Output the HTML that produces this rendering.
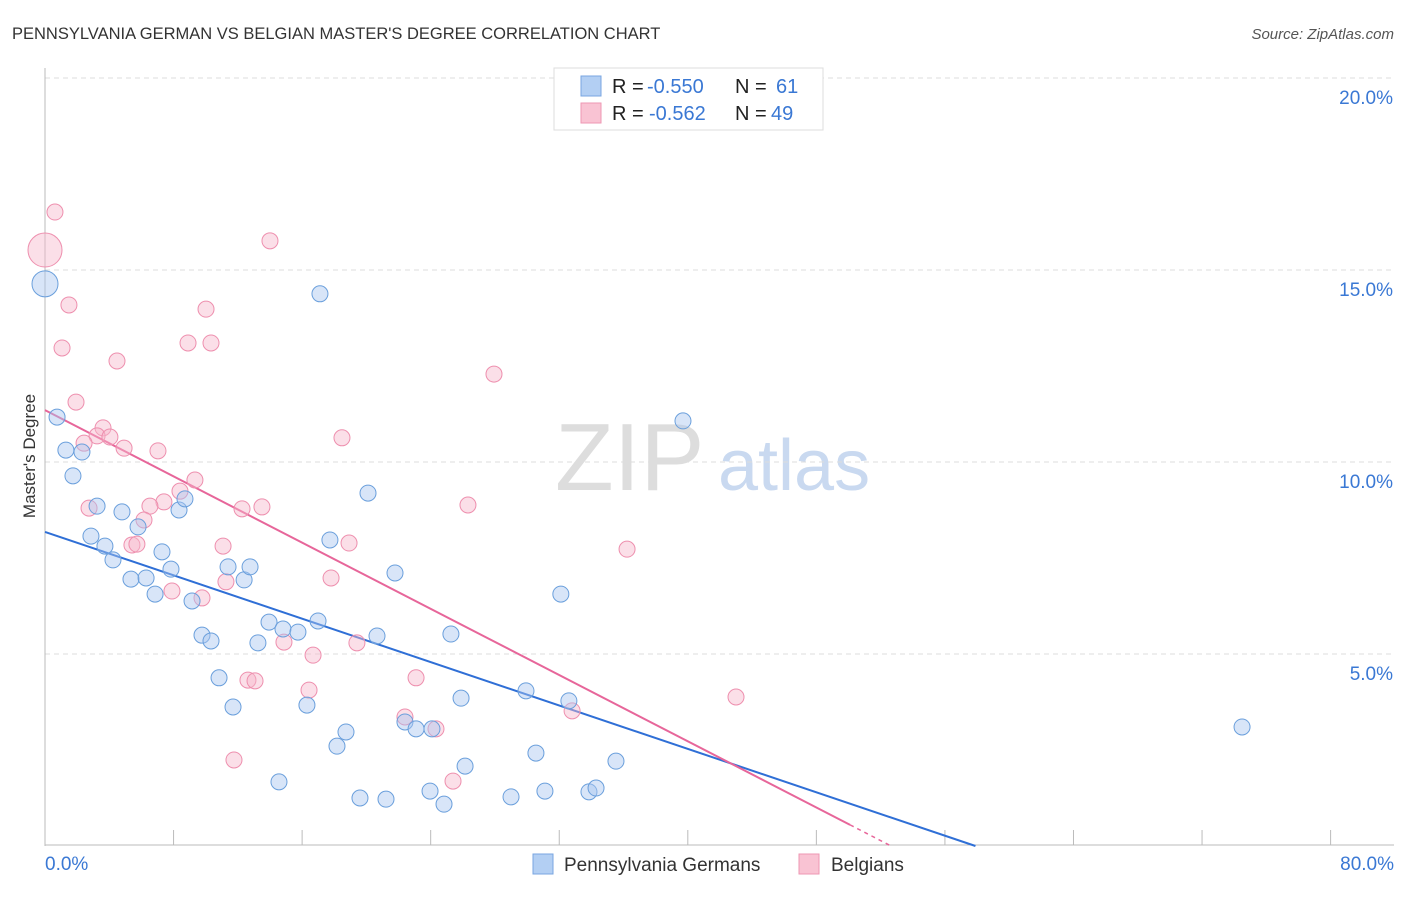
<!DOCTYPE html>
<html><head><meta charset="utf-8"><style>
body{margin:0;background:#fff;font-family:"Liberation Sans",sans-serif}
svg text{font-family:"Liberation Sans",sans-serif}
</style></head><body>
<svg id="chart" width="1406" height="892" viewBox="0 0 1406 892">
<text x="12" y="39" font-size="16.5" fill="#333">PENNSYLVANIA GERMAN VS BELGIAN MASTER'S DEGREE CORRELATION CHART</text>
<text x="1394" y="39" font-size="15" fill="#555" text-anchor="end" font-style="italic">Source: ZipAtlas.com</text>
<text x="35" y="456" font-size="17" fill="#333" text-anchor="middle" transform="rotate(-90 35 456)">Master's Degree</text>
<g><text x="555" y="490" font-size="96" fill="#ddd" font-family="Liberation Serif,serif">ZIP</text><text x="718" y="490" font-size="72" fill="#c9d9f0">atlas</text></g>
<g id="grid"></g><g id="trends"></g><g id="pts"></g>
<g>
<rect x="554" y="68" width="269" height="62" fill="#fff" stroke="#ddd"/>
<rect x="581" y="76" width="20" height="20" fill="#b3cff3" stroke="#78a6e0"/>
<rect x="581" y="103" width="20" height="20" fill="#f9c3d3" stroke="#ee97b3"/>
<text x="612" y="93" font-size="20" fill="#222">R =</text>
<text x="647" y="93" font-size="20" fill="#3a78d4">-0.550</text>
<text x="735" y="93" font-size="20" fill="#222">N =</text>
<text x="776" y="93" font-size="20" fill="#3a78d4">61</text>
<text x="612" y="120" font-size="20" fill="#222">R =</text>
<text x="649" y="120" font-size="20" fill="#3a78d4">-0.562</text>
<text x="735" y="120" font-size="20" fill="#222">N =</text>
<text x="771" y="120" font-size="20" fill="#3a78d4">49</text>
</g>
<g>
<rect x="533" y="854" width="20" height="20" fill="#b3cff3" stroke="#78a6e0"/>
<text x="564" y="871" font-size="19" fill="#333">Pennsylvania Germans</text>
<rect x="799" y="854" width="20" height="20" fill="#f9c3d3" stroke="#ee97b3"/>
<text x="831" y="871" font-size="19" fill="#333">Belgians</text>
</g>
</svg>
<script>
const yTicks=[5,10,15,20];
const xTickLabels=["0.0%","80.0%"];
const blueX=[0,0.75,1.3,2.3,1.74,3.24,4.79,2.86,3.73,4.23,5.79,7.28,7.84,5.35,6.29,6.85,8.34,8.71,9.15,11.39,12.39,12.76,9.77,10.33,13.94,14.81,15.74,13.25,16.99,17.11,17.73,20.1,21.78,20.66,25.26,32.1,39.7,10.83,11.7,16.3,18.73,18.17,22.4,23.09,24.08,25.89,29.93,32.6,30.55,26.14,35.53,14.56,19.6,21.22,23.96,24.83,29.0,31.11,33.85,34.29,74.49];
const blueY=[14.64,11.17,10.31,10.26,9.64,8.85,8.70,8.07,7.81,7.45,8.31,7.66,7.21,6.95,6.98,6.56,8.75,9.04,6.38,7.27,6.93,7.27,5.49,5.34,5.83,5.65,5.57,5.29,5.86,14.38,7.97,9.19,7.11,5.47,5.52,6.56,11.07,4.38,3.62,3.67,2.97,2.60,3.23,3.05,3.05,3.85,4.04,3.78,2.42,2.08,2.21,1.67,1.25,1.22,1.43,1.09,1.28,1.43,1.41,1.51,3.10];
const pinkX=[0,0.62,14.0,1.49,1.06,10.02,8.9,10.33,4.48,27.94,1.93,3.61,3.24,4.04,2.43,4.92,7.03,18.48,9.33,8.4,7.4,6.53,2.74,6.16,12.26,13.5,26.32,5.41,5.72,11.08,18.92,36.22,17.8,7.9,9.77,11.26,14.87,16.68,19.41,12.63,13.07,16.43,23.09,22.4,24.33,32.8,43.0,11.76,25.39];
const pinkY=[15.52,16.51,15.76,14.09,12.97,13.98,13.1,13.1,12.63,12.29,11.56,10.89,10.68,10.65,10.49,10.36,10.29,10.63,9.53,9.24,8.96,8.85,8.80,8.49,8.78,8.83,8.88,7.84,7.86,7.81,7.89,7.73,6.98,6.64,6.46,6.88,5.31,4.97,5.29,4.32,4.30,4.06,4.38,3.36,3.05,3.52,3.88,2.24,1.69];
const blueTrend=[[0,8.18],[57.9,0]];
const pinkTrend=[[0,11.35],[50.1,0.55]];
const X=v=>45+v*16.07, Y=v=>846-v*38.4;
const NS="http://www.w3.org/2000/svg";
function mk(p,t,a){const e=document.createElementNS(NS,t);for(const k in a)e.setAttribute(k,a[k]);p.appendChild(e);return e;}
const g=document.getElementById('grid');
yTicks.forEach(t=>{
const l=mk(g,'line',{x1:45,x2:1394,y1:Y(t),y2:Y(t),stroke:'#ddd','stroke-dasharray':'5,4'});


const tx=mk(g,'text',{x:1393,y:Y(t)+26,'font-size':19,fill:'#3a78d4','text-anchor':'end'});tx.textContent=t.toFixed(1)+'%';


});
mk(g,'line',{x1:45,x2:45,y1:68,y2:846,stroke:'#bbb'});
mk(g,'line',{x1:45,x2:1394,y1:845,y2:845,stroke:'#bbb'});
for(let i=1;i<=10;i++)mk(g,'line',{x1:X(i*8),x2:X(i*8),y1:830,y2:845,stroke:'#bbb'});
const xl=mk(g,'text',{x:45,y:870,'font-size':19,fill:'#3a78d4'});xl.textContent=xTickLabels[0];


const xr=mk(g,'text',{x:1394,y:870,'font-size':19,fill:'#3a78d4','text-anchor':'end'});xr.textContent=xTickLabels[1];


const p=document.getElementById('pts');
pinkX.forEach((x,i)=>{const c=mk(p,'circle',{cx:X(x),cy:Y(pinkY[i]),r:i==0?17:8,fill:'#f6b9cb','fill-opacity':0.45,stroke:'#ee8fae','stroke-width':1});

});
blueX.forEach((x,i)=>{const c=mk(p,'circle',{cx:X(x),cy:Y(blueY[i]),r:i==0?13:8,fill:'#a9c6ef','fill-opacity':0.45,stroke:'#6a9fdc','stroke-width':1});

});
const tr=document.getElementById('trends');
const bt=mk(tr,'line',{x1:X(blueTrend[0][0]),y1:Y(blueTrend[0][1]),x2:X(blueTrend[1][0]),y2:Y(blueTrend[1][1]),stroke:'#2f6fd6','stroke-width':2});


const pt=mk(tr,'line',{x1:X(pinkTrend[0][0]),y1:Y(pinkTrend[0][1]),x2:X(pinkTrend[1][0]),y2:Y(pinkTrend[1][1]),stroke:'#e7669a','stroke-width':2});


const sl=(pinkTrend[1][1]-pinkTrend[0][1])/(pinkTrend[1][0]-pinkTrend[0][0]);
const xe=pinkTrend[1][0]-pinkTrend[1][1]/sl;
const pd=mk(tr,'line',{x1:X(pinkTrend[1][0]),y1:Y(pinkTrend[1][1]),x2:X(xe),y2:Y(0),stroke:'#e7669a','stroke-width':1.5,'stroke-dasharray':'4,4'});


</script>
</body></html>
